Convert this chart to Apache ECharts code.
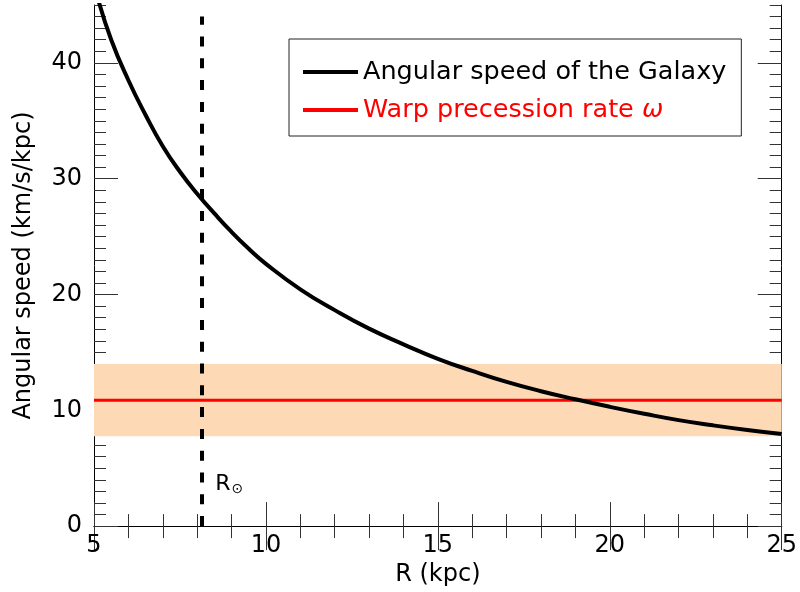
<!DOCTYPE html>
<html>
<head>
<meta charset="utf-8">
<script src="https://cdn.jsdelivr.net/npm/echarts@6/dist/echarts.min.js"></script>
<style>
html, body { margin: 0; padding: 0; background: #fff; }
#main { width: 800px; height: 592px; }
</style>
</head>
<body>
<div id="main"></div>
<script>
// values
var radius = [5.1, 5.5, 6, 6.5, 7, 7.5, 8, 8.5, 9, 9.5, 10, 11, 12, 13, 14, 15, 16, 17, 18, 19, 20, 21, 22, 23, 24, 25];
var omegaGal = [45.7, 42.0, 38.5, 35.5, 32.8, 30.6, 28.7, 27.0, 25.4, 23.95, 22.65, 20.45, 18.65, 17.05, 15.7, 14.45, 13.4, 12.45, 11.65, 10.95, 10.3, 9.7, 9.15, 8.7, 8.3, 7.95];
var warpR = [5, 25];
var warpRate = [10.86, 10.86];
var warpBand = [7.75, 14.0];
var sunR = 8.12;
var yTicks = [0, 10, 20, 30, 40];

var dom = document.getElementById('main');
var myChart = echarts.init(dom, null, {renderer: 'canvas'});

var galData = radius.map(function (r, i) { return [r, omegaGal[i]]; });
var warpData = warpR.map(function (r, i) { return [r, warpRate[i]]; });

var font = 'DejaVu Sans';
var tickCol = '#333';

function xAx(pos, showLabel) {
    return {
        type: 'value', position: pos, min: 5, max: 25, interval: 5,
        name: showLabel ? 'R (kpc)' : '', nameLocation: 'middle', nameGap: 36,
        nameTextStyle: {fontFamily: font, fontSize: 24, color: '#000'},
        axisLine: {show: true, lineStyle: {color: '#000', width: 1}},
        axisTick: {show: true, inside: true, length: 24, lineStyle: {color: tickCol}},
        minorTick: {show: true, splitNumber: 5, length: 12, lineStyle: {color: tickCol}},
        axisLabel: {show: showLabel, fontFamily: font, fontSize: 24, color: '#000', margin: 8},
        splitLine: {show: false}
    };
}

function yMajor(pos, showLabel) {
    return {
        type: 'value', position: pos, min: 0, max: 45, interval: 10,
        name: showLabel ? 'Angular speed (km/s/kpc)' : '', nameLocation: 'middle', nameGap: 58,
        nameTextStyle: {fontFamily: font, fontSize: 24, color: '#000'},
        axisLine: {show: true, lineStyle: {color: '#000', width: 1}},
        axisTick: {show: true, inside: true, length: 24, customValues: yTicks, lineStyle: {color: tickCol}},
        axisLabel: {show: showLabel, customValues: yTicks, fontFamily: font, fontSize: 24, color: '#000', margin: 12},
        splitLine: {show: false}
    };
}

function yMinor(pos) {
    return {
        type: 'value', position: pos, min: 0, max: 45, interval: 1,
        axisLine: {show: false},
        axisTick: {show: true, inside: true, length: 12, lineStyle: {color: tickCol}},
        axisLabel: {show: false},
        splitLine: {show: false}
    };
}

var option = {
    animation: false,
    backgroundColor: '#fff',
    grid: {left: 94, right: 18, top: 5, bottom: 64, containLabel: false},
    legend: {
        orient: 'vertical',
        left: 289, top: 39,
        padding: [20, 15, 13, 12],
        itemGap: 12,
        itemWidth: 55,
        itemHeight: 26,
        itemTextGap: 19,
        borderColor: '#222',
        borderWidth: 1,
        backgroundColor: '#fff',
        itemStyle: {opacity: 0},
        lineStyle: {width: 4},
        data: ['Angular speed of the Galaxy', 'Warp precession rate ω'],
        formatter: function (name) {
            if (name === 'Warp precession rate ω') {
                return '{r|Warp precession rate }{w|ω}';
            }
            return '{k|' + name + '}';
        },
        textStyle: {
            fontFamily: font, fontSize: 25.5,
            rich: {
                k: {fontFamily: font, fontSize: 25.5, color: '#000'},
                r: {fontFamily: font, fontSize: 25.5, color: '#ff0000'},
                w: {fontFamily: font, fontSize: 25.5, color: '#ff0000', fontStyle: 'italic'}
            }
        }
    },
    xAxis: [xAx('bottom', true), xAx('top', false)],
    yAxis: [yMajor('left', true), yMinor('left'), yMajor('right', false), yMinor('right')],
    series: [
        {
            name: 'Warp precession rate ω',
            type: 'line',
            data: warpData,
            showSymbol: false,
            symbol: 'none',
            lineStyle: {color: '#ff0000', width: 3},
            itemStyle: {color: '#ff0000'},
            z: 3,
            markArea: {
                silent: true,
                itemStyle: {color: '#fdd9b6'},
                data: [[{yAxis: warpBand[0]}, {yAxis: warpBand[1]}]]
            }
        },
        {
            name: 'Angular speed of the Galaxy',
            type: 'line',
            data: galData,
            smooth: 0.5,
            showSymbol: false,
            symbol: 'none',
            lineStyle: {color: '#000', width: 4},
            itemStyle: {color: '#000'},
            z: 4
        },
        {
            name: 'sun',
            type: 'line',
            data: [],
            z: 5,
            markLine: {
                silent: true,
                symbol: ['none', 'none'],
                label: {show: false},
                lineStyle: {color: '#000', width: 4, type: [10, 11.8]},
                data: [[{coord: [sunR, 0]}, {coord: [sunR, 44.0]}]]
            },
            markPoint: {
                silent: true,
                symbol: 'circle',
                symbolSize: 0,
                label: {
                    show: true,
                    position: 'right',
                    formatter: '{r|R}{s|⊙}',
                    rich: {
                        r: {fontFamily: font, fontSize: 22, color: '#000'},
                        s: {fontFamily: font, fontSize: 14, color: '#000', padding: [10, 0, 0, 1]}
                    }
                },
                data: [{coord: [8.38, 3.6]}]
            }
        }
    ]
};

myChart.setOption(option);
</script>
</body>
</html>
